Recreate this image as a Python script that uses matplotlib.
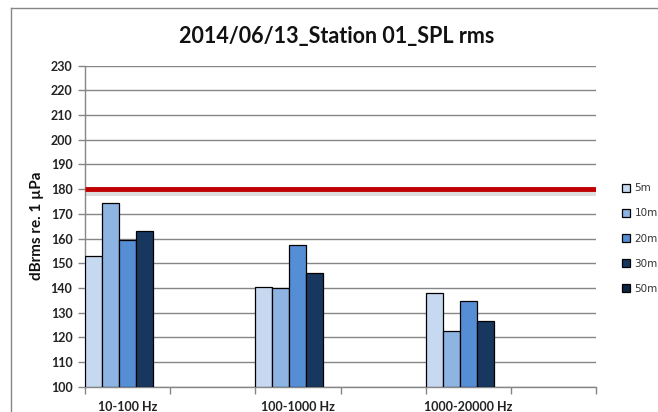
import matplotlib.pyplot as plt
import matplotlib.patheffects as pe
from matplotlib.lines import Line2D
import numpy as np

# categories (Excel chart has empty categories between labelled ones)
bands = ['10-100 Hz', '', '100-1000 Hz', '', '1000-20000 Hz', '']
series = ['5m', '10m', '20m', '30m', '50m']
spl_5m = [152.9, np.nan, 140.5, np.nan, 138.1, np.nan]
spl_10m = [174.2, np.nan, 140.1, np.nan, 122.7, np.nan]
spl_20m = [159.4, np.nan, 157.5, np.nan, 134.8, np.nan]
spl_30m = [163.2, np.nan, 145.9, np.nan, 126.5, np.nan]
spl_50m = [np.nan] * 6
threshold = 180

colors = ['#C6D9F1', '#8DB4E2', '#558ED5', '#17375E', '#0F243E']
grid_c = '#868686'

fig = plt.figure(figsize=(6.58, 4.12), dpi=100)
ax = fig.add_axes([85 / 658, 1 - 386.7 / 412, 511 / 658, 321 / 412])

x = np.arange(len(bands))
w = 0.2
handles = []
for k, (vals, lab) in enumerate(zip([spl_5m, spl_10m, spl_20m, spl_30m, spl_50m], series)):
    vals = np.array(vals)
    b = ax.bar(x + w * k + w / 2, vals - 100, bottom=100, width=w, color=colors[k],
               edgecolor='black', linewidth=0.9, label=lab, zorder=3)
    handles.append(b)

# threshold line, only across the plot area
ax.plot([0, len(bands)], [threshold, threshold], color='#C00000', lw=3.5, zorder=4,
        solid_capstyle='butt',
        path_effects=[pe.SimpleLineShadow(offset=(0, -2.5), shadow_color='#909090', alpha=0.3),
                      pe.Normal()])

ax.set_xlim(0, len(bands))
ax.set_ylim(100, 230)
ax.set_yticks(np.arange(100, 231, 10))
ax.yaxis.grid(True, color=grid_c, lw=1, zorder=0)
ax.set_axisbelow(True)

ax.set_xticks(x + 0.5)
ax.set_xticklabels(bands)
ax.set_xticks(np.arange(len(bands) + 1), minor=True)
ax.tick_params(axis='x', which='major', length=0, pad=10)
ax.tick_params(axis='x', which='minor', length=5, color=grid_c, width=1)
ax.tick_params(axis='y', length=5, color=grid_c, width=1, pad=4)

for s in ['top', 'right']:
    ax.spines[s].set_visible(False)
for s in ['left', 'bottom']:
    ax.spines[s].set_color(grid_c)
    ax.spines[s].set_linewidth(1)

for lbl in ax.get_xticklabels() + ax.get_yticklabels():
    lbl.set_fontfamily('Lato')
    lbl.set_fontweight('bold')
    lbl.set_fontsize(9)
    lbl.set_color('#222222')

ax.set_ylabel('dBrms re. 1 µPa', fontfamily='Lato', fontweight='bold', fontsize=11,
              color='#111111', labelpad=5)

fig.text(0.512, 1 - 37 / 412, '2014/06/13_Station 01_SPL rms', ha='center', va='center',
         fontfamily='Lato', fontweight='bold', fontsize=15.5, color='#111111')

leg = fig.legend(handles=handles, labels=series, loc='upper left',
                 bbox_to_anchor=(613 / 658, 1 - 174 / 412), frameon=False,
                 prop={'family': 'DejaVu Sans', 'size': 7.5}, handlelength=0.75,
                 handleheight=0.75, handletextpad=0.4, labelspacing=1.45)
for t in leg.get_texts():
    t.set_color('#333333')

# outer chart frame (left and top edges visible)
fig.add_artist(Line2D([11 / 658, 11 / 658], [0, 1 - 8 / 412], color=grid_c, lw=1))
fig.add_artist(Line2D([11 / 658, 1], [1 - 8 / 412, 1 - 8 / 412], color=grid_c, lw=1))

fig.savefig('out.png', dpi=100)
